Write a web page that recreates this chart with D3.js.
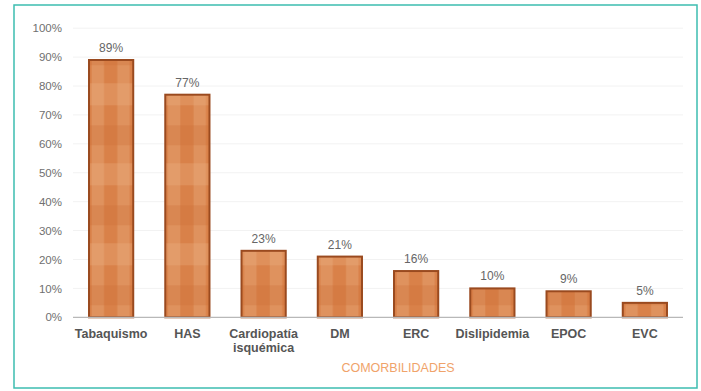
<!DOCTYPE html>
<html><head><meta charset="utf-8">
<script src="https://cdn.jsdelivr.net/npm/d3@7"></script>
<style>body{margin:0;background:#fff;}svg{display:block;font-family:"Liberation Sans",Arial,sans-serif;}</style>
</head><body>
<script>
const categories = ["Tabaquismo","HAS","Cardiopatía\nisquémica","DM","ERC","Dislipidemia","EPOC","EVC"];
const values = [89,77,23,21,16,10,9,5];
const yTicks = [0,10,20,30,40,50,60,70,80,90,100];
const axisTitle = "COMORBILIDADES";

const W = 701, H = 391;
const svg = d3.select("body").append("svg").attr("width", W).attr("height", H);
svg.append("rect").attr("x",14).attr("y",5).attr("width",683).attr("height",383)
  .attr("fill","#fff").attr("stroke","#3dbdb0").attr("stroke-width",1.5);

const x = d3.scaleBand().domain(categories).range([73,683]).paddingInner(0.42).paddingOuter(0.21);
const y = d3.scaleLinear().domain([0,100]).range([317.3,28.2]);

// gridlines
svg.append("g").selectAll("line").data(yTicks.filter(d=>d>0)).join("line")
  .attr("x1",73).attr("x2",683).attr("y1",d=>y(d)).attr("y2",d=>y(d))
  .attr("stroke","#f2f2f2").attr("stroke-width",1);

// y axis
const ya = svg.append("g").attr("transform","translate(73,0)")
  .call(d3.axisLeft(y).tickValues(yTicks).tickFormat(d=>d+"%").tickSize(0).tickPadding(11));
ya.select(".domain").remove();
ya.selectAll("text").attr("fill","#707070").attr("font-size","11.5px").attr("font-family","Liberation Sans, Arial, sans-serif");

// patterns
const defs = svg.append("defs");
const bw = x.bandwidth();
categories.forEach((c,i)=>{
  const th = 80;
  const p = defs.append("pattern").attr("id","pat"+i).attr("patternUnits","userSpaceOnUse")
    .attr("x", x(c)).attr("y", y(0)).attr("width", bw).attr("height", th);
  p.append("rect").attr("width",bw).attr("height",th).attr("fill","#d98149");
  p.append("rect").attr("x",bw*0.06).attr("width",bw*0.28).attr("height",th).attr("fill","#f0bb90").attr("opacity",0.3);
  p.append("rect").attr("x",bw*0.64).attr("width",bw*0.28).attr("height",th).attr("fill","#f0bb90").attr("opacity",0.3);
  p.append("rect").attr("y",6).attr("width",bw).attr("height",22).attr("fill","#f0bb90").attr("opacity",0.25);
  p.append("rect").attr("y",48).attr("width",bw).attr("height",20).attr("fill","#c9692f").attr("opacity",0.25);
});

// bars
svg.append("g").selectAll("rect").data(values).join("rect")
  .attr("x",(d,i)=>x(categories[i])).attr("width",bw)
  .attr("y",d=>y(d)).attr("height",d=>y(0)-y(d))
  .attr("fill",(d,i)=>`url(#pat${i})`).attr("stroke","#9a4a1f").attr("stroke-width",2);

// x axis line
svg.append("line").attr("x1",73).attr("x2",683).attr("y1",y(0)).attr("y2",y(0))
  .attr("stroke","#b8b8b8").attr("stroke-width",1.2);

// value labels
svg.append("g").selectAll("text").data(values).join("text")
  .attr("x",(d,i)=>x(categories[i])+bw/2).attr("y",d=>y(d)-8)
  .attr("text-anchor","middle").attr("font-size","12px").attr("fill","#666").text(d=>d+"%");

// category labels
const cl = svg.append("g").selectAll("text").data(categories).join("text")
  .attr("x",d=>x(d)+bw/2).attr("y",338).attr("text-anchor","middle")
  .attr("font-size","12.5px").attr("font-weight","bold").attr("fill","#555");
cl.each(function(d){
  const t = d3.select(this);
  d.split("\n").forEach((s,j)=>{
    t.append("tspan").attr("x",x(d)+bw/2).attr("dy",j?14:0).text(s);
  });
});

// axis title
svg.append("text").attr("x",398).attr("y",372).attr("text-anchor","middle")
  .attr("font-size","12.5px").attr("fill","#f0a36a").text(axisTitle);
</script>
</body></html>
